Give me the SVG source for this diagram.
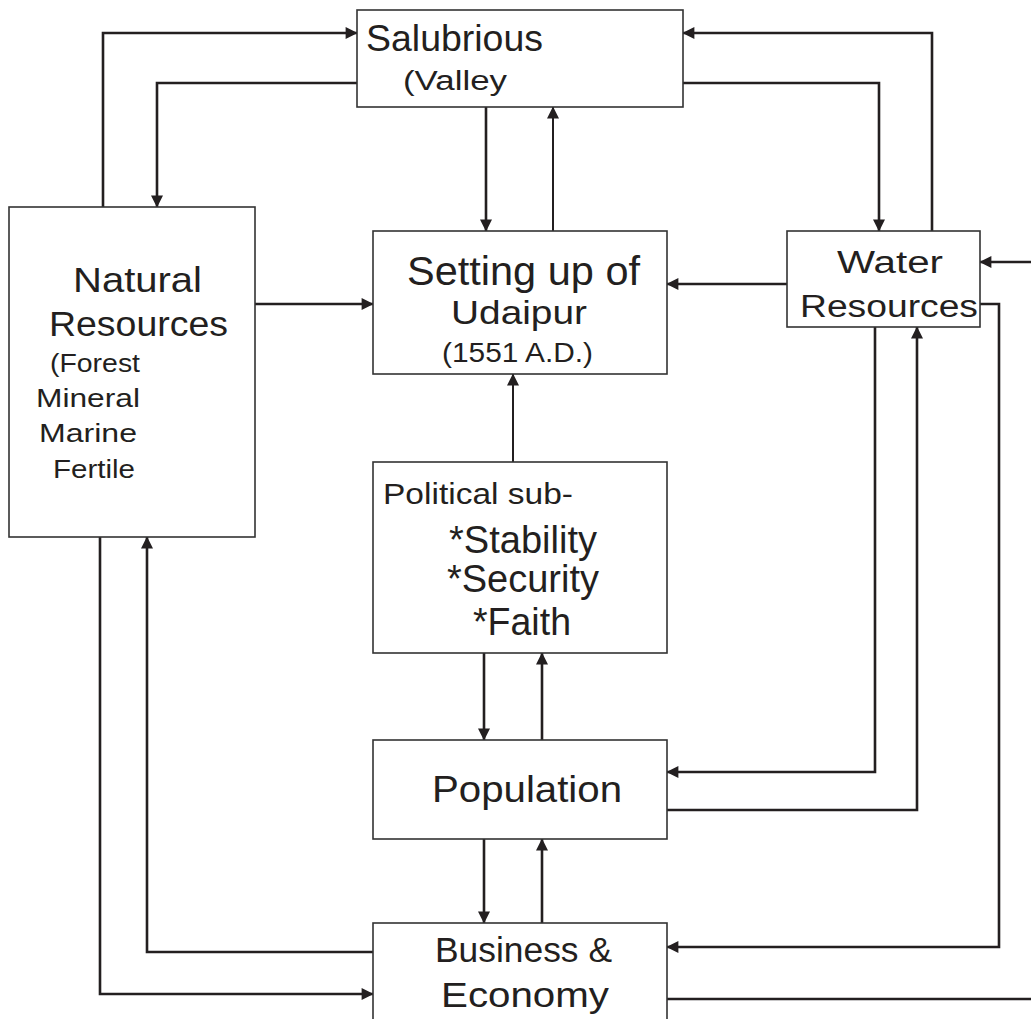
<svg xmlns="http://www.w3.org/2000/svg" width="1031" height="1019" viewBox="0 0 1031 1019">
<style>
.box{fill:#fff;stroke:#333;stroke-width:1.6}
.c{fill:none;stroke:#231f20;stroke-width:2.6}
.t{font-family:"Liberation Sans",Arial,sans-serif;fill:#231f20}
</style>
<defs>
<marker id="ah" viewBox="0 0 10 10" refX="9.5" refY="5" markerWidth="13" markerHeight="12" markerUnits="userSpaceOnUse" orient="auto">
<path d="M0,0 L10,5 L0,10 z" fill="#231f20"/>
</marker>
</defs>
<rect width="1031" height="1019" fill="#fff"/>
<g id="connectors">
<path class="c" d="M103,207 V33 H357" marker-end="url(#ah)"/>
<path class="c" d="M357,83 H157 V207" marker-end="url(#ah)"/>
<path class="c" d="M486,107 V231" marker-end="url(#ah)"/>
<path class="c" d="M553,231 V107" marker-end="url(#ah)" style="stroke-width:2"/>
<path class="c" d="M683,83 H879 V231" marker-end="url(#ah)"/>
<path class="c" d="M932,231 V33 H683" marker-end="url(#ah)"/>
<path class="c" d="M254,304 H373" marker-end="url(#ah)"/>
<path class="c" d="M788,284 H667" marker-end="url(#ah)"/>
<path class="c" d="M513,462 V374" marker-end="url(#ah)" style="stroke-width:2"/>
<path class="c" d="M484,653 V740" marker-end="url(#ah)"/>
<path class="c" d="M542,740 V653" marker-end="url(#ah)"/>
<path class="c" d="M875,327 V772 H667" marker-end="url(#ah)"/>
<path class="c" d="M667,810 H917 V327" marker-end="url(#ah)"/>
<path class="c" d="M484,839 V923" marker-end="url(#ah)"/>
<path class="c" d="M542,923 V839" marker-end="url(#ah)"/>
<path class="c" d="M980,304 H999 V947 H667" marker-end="url(#ah)"/>
<path class="c" d="M667,999 H1031"/>
<path class="c" d="M1031,262 H980" marker-end="url(#ah)"/>
<path class="c" d="M100,537 V994 H373" marker-end="url(#ah)"/>
<path class="c" d="M373,952 H147 V537" marker-end="url(#ah)"/>
</g>
<g id="salubrious">
<rect class="box" x="357" y="10" width="326" height="97"/>
<text class="t" x="366" y="51" font-size="36" textLength="177" lengthAdjust="spacingAndGlyphs">Salubrious</text>
<text class="t" x="403" y="90" font-size="27" textLength="104" lengthAdjust="spacingAndGlyphs">(Valley</text>
</g>
<g id="natural-resources">
<rect class="box" x="9" y="207" width="246" height="330"/>
<text class="t" x="73" y="292" font-size="35" textLength="129" lengthAdjust="spacingAndGlyphs">Natural</text>
<text class="t" x="49" y="336" font-size="35" textLength="179" lengthAdjust="spacingAndGlyphs">Resources</text>
<text class="t" x="50" y="372" font-size="25" textLength="90" lengthAdjust="spacingAndGlyphs">(Forest</text>
<text class="t" x="36" y="407" font-size="25" textLength="104" lengthAdjust="spacingAndGlyphs">Mineral</text>
<text class="t" x="39" y="442" font-size="25" textLength="98" lengthAdjust="spacingAndGlyphs">Marine</text>
<text class="t" x="53" y="478" font-size="25" textLength="82" lengthAdjust="spacingAndGlyphs">Fertile</text>
</g>
<g id="setting-up">
<rect class="box" x="373" y="231" width="294" height="143"/>
<text class="t" x="407" y="285" font-size="40" textLength="233" lengthAdjust="spacingAndGlyphs">Setting up of</text>
<text class="t" x="451" y="324" font-size="34" textLength="136" lengthAdjust="spacingAndGlyphs">Udaipur</text>
<text class="t" x="442" y="362" font-size="27" textLength="151" lengthAdjust="spacingAndGlyphs">(1551 A.D.)</text>
</g>
<g id="water-resources">
<rect class="box" x="787" y="231" width="193" height="96"/>
<text class="t" x="837" y="273" font-size="31" textLength="106" lengthAdjust="spacingAndGlyphs">Water</text>
<text class="t" x="800" y="317" font-size="31" textLength="178" lengthAdjust="spacingAndGlyphs">Resources</text>
</g>
<g id="political">
<rect class="box" x="373" y="462" width="294" height="191"/>
<text class="t" x="383" y="504" font-size="29" textLength="190" lengthAdjust="spacingAndGlyphs">Political sub-</text>
<text class="t" x="449" y="553" font-size="38" textLength="148" lengthAdjust="spacingAndGlyphs">*Stability</text>
<text class="t" x="447" y="592" font-size="38" textLength="152" lengthAdjust="spacingAndGlyphs">*Security</text>
<text class="t" x="473" y="635" font-size="38" textLength="98" lengthAdjust="spacingAndGlyphs">*Faith</text>
</g>
<g id="population">
<rect class="box" x="373" y="740" width="294" height="99"/>
<text class="t" x="432" y="802" font-size="37" textLength="190" lengthAdjust="spacingAndGlyphs">Population</text>
</g>
<g id="business">
<rect class="box" x="373" y="923" width="294" height="110"/>
<text class="t" x="435" y="962" font-size="35" textLength="177" lengthAdjust="spacingAndGlyphs">Business &amp;</text>
<text class="t" x="441" y="1007" font-size="35" textLength="168" lengthAdjust="spacingAndGlyphs">Economy</text>
</g>
</svg>
